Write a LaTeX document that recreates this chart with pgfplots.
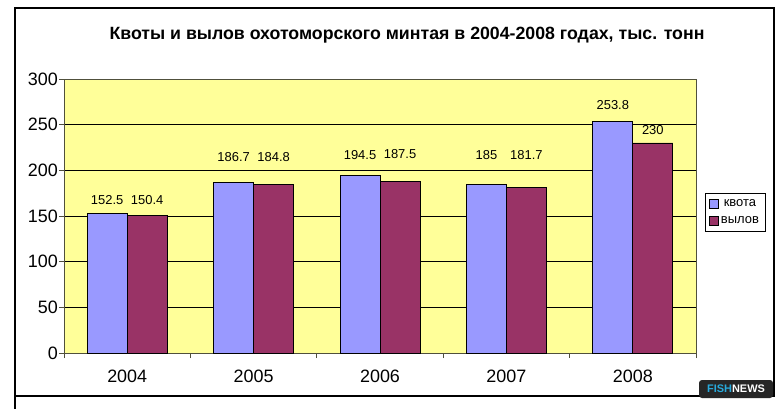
\documentclass[border=0pt]{standalone}
\usepackage{fontspec}
\setmainfont{Liberation Sans}
\usepackage{pgfplots}
\usepackage{pgfplotstable}
\pgfplotsset{compat=1.18}
\definecolor{plotyellow}{RGB}{255,255,153}
\definecolor{kvota}{RGB}{153,153,255}
\definecolor{vylov}{RGB}{153,51,102}
\definecolor{axisgray}{RGB}{80,80,60}
\definecolor{fishcyan}{RGB}{40,170,220}
% x, value, label offset above bar top (bp)
\pgfplotstableread{
x y s
0 152.5 13.7
1 186.7 25.5
2 194.5 20.4
3 185 29
4 253.8 16.2
}\kvotadata
\pgfplotstableread{
x y s
0 150.4 15.6
1 184.8 27.2
2 187.5 27.8
3 181.7 32
4 230 13
}\vylovdata
\begin{document}
\begin{tikzpicture}[x=1bp,y=1bp]
\path[use as bounding box, fill=white] (0,0) rectangle (783,409);
\draw[line width=1.2bp] (15,13) rectangle (774,401);
\draw[line width=1.2bp] (15,13) -- (15,0);
\node[font=\bfseries\fontsize{17.8}{20}\selectfont] at (407,374) {Квоты и вылов охотоморского минтая в 2004-2008 годах, тыс. тонн};
\begin{axis}[at={(64bp,56bp)}, anchor=south west, scale only axis,
  width=632bp, height=274bp,
  ybar=0pt, bar width=40bp,
  xmin=-0.5, xmax=4.5, ymin=0, ymax=300,
  xtick={0,1,2,3,4}, xticklabels={2004,2005,2006,2007,2008},
  minor xtick={-0.5,0.5,1.5,2.5,3.5,4.5},
  ytick={0,50,...,300},
  ymajorgrids, grid style={black, line width=0.8bp},
  axis background/.style={fill=plotyellow},
  axis line style={axisgray, line width=1bp},
  tick align=outside, tick pos=left,
  major tick length=5bp, minor tick length=5bp,
  major x tick style={draw=none},
  tick style={axisgray, line width=1bp},
  ticklabel style={font=\fontsize{18}{20}\selectfont},
  xticklabel style={yshift=-8bp},
  yticklabel style={inner sep=1bp},
  /pgf/number format/assume math mode=true,
  /pgf/number format/.cd, fixed, precision=1, /pgfplots/.cd,
  nodes near coords,
  visualization depends on={\thisrow{s} \as \labshift},
  every node near coord/.append style={font=\fontsize{13}{14}\selectfont, black, anchor=center, inner sep=0pt, yshift=\labshift bp},
  legend style={at={(1.0142,0.584)}, anchor=north west, draw=black, line width=0.8bp,
    font=\fontsize{13}{14}\selectfont, inner xsep=4bp, inner ysep=4bp, row sep=5bp},
  legend image code/.code={\draw[#1, draw=black, line width=0.6bp] (0bp,-4.5bp) rectangle (9bp,4.5bp);},
]
\addplot[fill=kvota, draw=black, line width=0.8bp, point meta=y] table[x=x, y=y] {\kvotadata};
\addplot[fill=vylov, draw=black, line width=0.8bp, point meta=y] table[x=x, y=y] {\vylovdata};
\legend{квота, вылов}
\end{axis}
\fill[black!85, rounded corners=3bp] (699,11) rectangle (773,29);
\node[font=\bfseries\fontsize{11}{12}\selectfont, anchor=center] at (736,20) {\textcolor{fishcyan}{FISH}\textcolor{white}{NEWS}};
\end{tikzpicture}
\end{document}
